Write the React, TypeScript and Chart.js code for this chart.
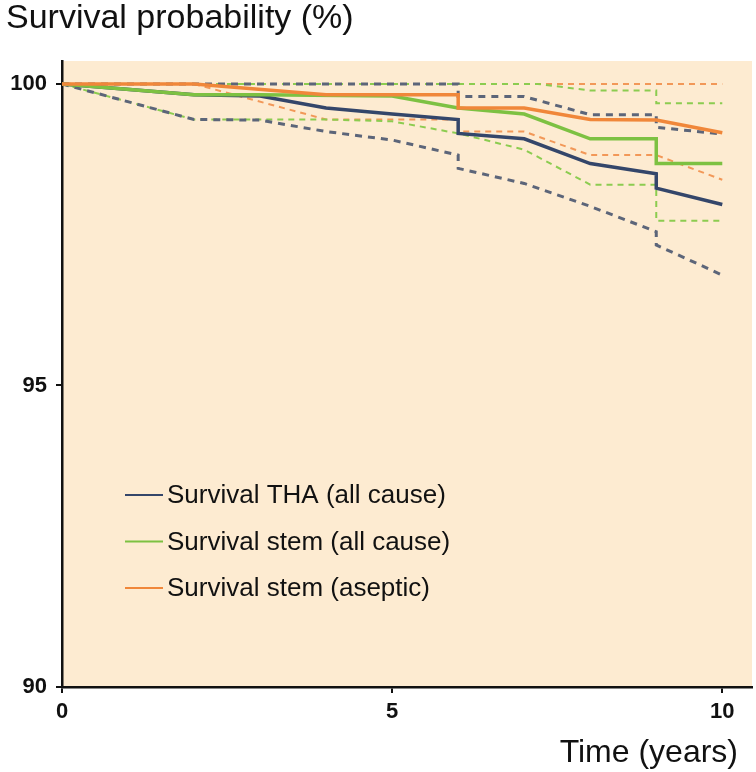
import { useEffect, useRef } from "react";
import { Chart, registerables } from "chart.js";
Chart.register(...registerables);

// ---- data ----
const X_TICKS = [0, 5, 10];
const Y_TICKS = [90, 95, 100];
const TITLE_Y = "Survival probability (%)";
const TITLE_X = "Time (years)";

const THA_T = [0, 2, 3, 4, 5, 6, 6, 7, 8, 9, 9, 10];
const THA_S = [100, 99.82, 99.8, 99.6, 99.5, 99.41, 99.18, 99.09, 98.68, 98.51, 98.27, 98.0];
const THA_UP_T = [0, 6, 6, 7, 8, 9, 9, 10];
const THA_UP = [100, 100, 99.79, 99.79, 99.49, 99.49, 99.28, 99.17];
const THA_LO_T = [0, 2, 3, 4, 5, 6, 6, 7, 8, 9, 9, 10];
const THA_LO = [100, 99.41, 99.4, 99.21, 99.07, 98.82, 98.6, 98.35, 97.97, 97.55, 97.33, 96.83];

const STEM_T = [0, 2, 3, 5, 6, 7, 8, 9, 9, 10];
const STEM_S = [100, 99.82, 99.82, 99.8, 99.6, 99.5, 99.09, 99.09, 98.68, 98.68];
const STEM_UP_T = [0, 7.2, 8, 9, 9, 10];
const STEM_UP = [100, 100, 99.89, 99.89, 99.68, 99.68];
const STEM_LO_T = [0, 2, 4, 5, 6, 7, 8, 9, 9, 10];
const STEM_LO = [100, 99.41, 99.41, 99.38, 99.18, 98.91, 98.33, 98.33, 97.73, 97.73];

const ASEP_T = [0, 2, 4, 6, 6, 7, 8, 9, 10];
const ASEP_S = [100, 100, 99.82, 99.82, 99.6, 99.6, 99.41, 99.4, 99.19];
const ASEP_UP_T = [0, 10];
const ASEP_UP = [100, 100];
const ASEP_LO_T = [0, 2, 4, 6, 6, 7, 8, 9, 10];
const ASEP_LO = [100, 100, 99.41, 99.41, 99.21, 99.21, 98.82, 98.82, 98.41];

const LABELS = ["Survival THA (all cause)", "Survival stem (all cause)", "Survival stem (aseptic)"];

const BLUE = "#34466a";
const BLUE_D = "#5c6579";
const GREEN = "#7dc142";
const GREEN_D = "#8ccc50";
const ORANGE = "#f0873a";
const ORANGE_D = "#f29858";
const BG = "#fdebd1";
const FONT = "'Liberation Sans', Arial, Helvetica, sans-serif";

const pts = (t: number[], v: number[]) => t.map((x, i) => ({ x, y: v[i] }));

export default function App() {
  const ref = useRef<HTMLCanvasElement | null>(null);
  useEffect(() => {
    if (!ref.current) return;
    const solid = (label: string, t: number[], v: number[], color: string, order: number) => ({
      label, data: pts(t, v), borderColor: color, backgroundColor: color, borderWidth: 3.5,
      pointRadius: 0, showLine: true, tension: 0, fill: false, order, legendShow: true,
    });
    const dashed = (label: string, t: number[], v: number[], color: string, w: number, dash: number[]) => ({
      label, data: pts(t, v), borderColor: color, backgroundColor: color, borderWidth: w,
      borderDash: dash, pointRadius: 0, showLine: true, tension: 0, fill: false, order: 10,
      legendShow: false,
    });
    const decor = {
      id: "decor",
      beforeDraw(chart: any) {
        const { ctx, chartArea: a } = chart;
        ctx.save();
        ctx.fillStyle = BG;
        ctx.fillRect(a.left, a.top, a.right - a.left, a.bottom - a.top);
        ctx.restore();
      },
      afterDraw(chart: any) {
        const { ctx, chartArea: a } = chart;
        ctx.save();
        ctx.fillStyle = "#111";
        ctx.textBaseline = "alphabetic";
        ctx.font = `34px ${FONT}`;
        ctx.textAlign = "left";
        ctx.fillText(TITLE_Y, 6, 28);
        ctx.textAlign = "right";
        ctx.font = `32px ${FONT}`;
        ctx.fillText(TITLE_X, 738, 762);
        // legend for solid series
        const items = chart.data.datasets.filter((d: any) => d.legendShow);
        ctx.textAlign = "left";
        ctx.textBaseline = "middle";
        ctx.font = `26px ${FONT}`;
        items.forEach((d: any, i: number) => {
          const y = 495 + i * 46.5;
          ctx.strokeStyle = d.borderColor;
          ctx.lineWidth = 2;
          ctx.beginPath();
          ctx.moveTo(a.left + 63, y);
          ctx.lineTo(a.left + 101, y);
          ctx.stroke();
          ctx.fillStyle = "#111";
          ctx.fillText(d.label, a.left + 105, y + 1);
        });
        ctx.restore();
      },
    };
    const tickFont = { family: FONT, size: 22, weight: "bold" as const };
    const chart = new Chart(ref.current, {
      type: "scatter",
      data: {
        datasets: [
          solid(LABELS[0], THA_T, THA_S, BLUE, 3),
          solid(LABELS[1], STEM_T, STEM_S, GREEN, 2),
          solid(LABELS[2], ASEP_T, ASEP_S, ORANGE, 1),
          dashed("THA upper 95% CI", THA_UP_T, THA_UP, BLUE_D, 3, [7, 6]),
          dashed("THA lower 95% CI", THA_LO_T, THA_LO, BLUE_D, 3, [7, 6]),
          dashed("Stem upper 95% CI", STEM_UP_T, STEM_UP, GREEN_D, 2, [6, 5]),
          dashed("Stem lower 95% CI", STEM_LO_T, STEM_LO, GREEN_D, 2, [6, 5]),
          dashed("Aseptic upper 95% CI", ASEP_UP_T, ASEP_UP, ORANGE_D, 2, [6, 5]),
          dashed("Aseptic lower 95% CI", ASEP_LO_T, ASEP_LO, ORANGE_D, 2, [6, 5]),
        ] as any,
      },
      options: {
        animation: false,
        responsive: false,
        layout: { padding: { top: 61, right: 4, bottom: 0, left: 0 } },
        plugins: { legend: { display: false }, tooltip: { enabled: false }, title: { display: false } },
        scales: {
          x: {
            type: "linear",
            min: 0,
            max: 10.45,
            afterBuildTicks: (s: any) => { s.ticks = X_TICKS.map((v) => ({ value: v })); },
            afterFit: (s: any) => { s.height = 85; },
            ticks: { font: tickFont, color: "#111", padding: 6, maxRotation: 0 },
            grid: { display: true, drawOnChartArea: false, drawTicks: true, tickLength: 6, color: "#111", lineWidth: 2 },
            border: { display: true, color: "#111", width: 2.5 },
          },
          y: {
            type: "linear",
            min: 90,
            max: 100.38,
            afterBuildTicks: (s: any) => { s.ticks = Y_TICKS.map((v) => ({ value: v })); },
            afterFit: (s: any) => { s.width = 62; },
            ticks: { font: tickFont, color: "#111", padding: 9 },
            grid: { display: true, drawOnChartArea: false, drawTicks: true, tickLength: 6, color: "#111", lineWidth: 2 },
            border: { display: true, color: "#111", width: 2.5 },
          },
        },
      },
      plugins: [decor],
    });
    return () => chart.destroy();
  }, []);
  return (
    <div style={{ position: "fixed", left: 0, top: 0, width: 756, height: 772, background: "#fff" }}>
      <canvas ref={ref} width={756} height={772} />
    </div>
  );
}
